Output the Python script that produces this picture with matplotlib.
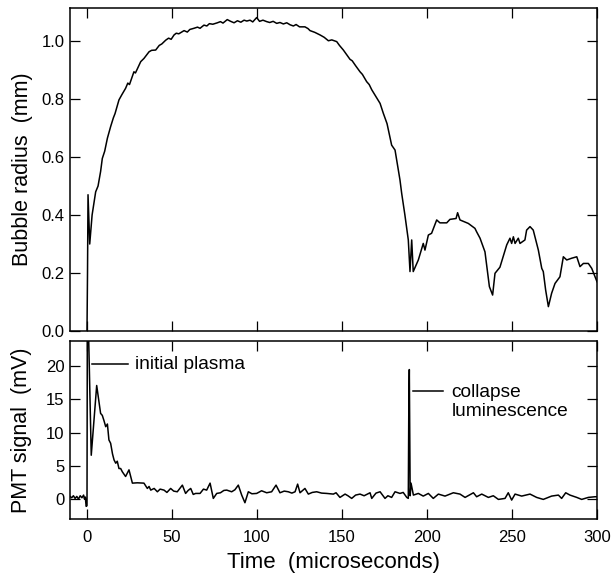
import matplotlib
matplotlib.use("Agg")
import matplotlib.pyplot as plt

plt.rcParams['font.family'] = ['Liberation Sans', 'DejaVu Sans']

# ---- Bubble radius (mm) vs time (microseconds) ----
radius_t = [0.0, 0.3, 0.6, 1.6, 3.0, 5.1, 6.5, 8.0, 9.0, 10.4, 12.0, 13.9, 15.5, 16.5,
            18.8, 20.5, 22.7, 24.0, 25.0, 27.6, 28.5, 31.6, 33.5, 36.5, 38.0, 40.4,
            42.5, 44.0, 46.3, 48.0, 49.5, 51.2, 52.5, 54.0, 57.1, 59.0, 60.5, 62.9,
            65.0, 66.5, 68.8, 70.5, 72.0, 74.0, 76.7, 78.5, 80.0, 82.5, 84.5, 86.5,
            88.5, 90.5, 92.4, 94.0, 95.9, 97.5, 99.8, 101.5, 103.5, 105.7, 107.5,
            109.5, 111.6, 113.5, 115.5, 117.5, 119.5, 121.4, 123.0, 125.0, 128.2,
            130.0, 131.2, 134.0, 137.1, 139.5, 142.0, 144.0, 146.9, 148.5, 150.8,
            152.5, 154.7, 156.0, 158.0, 160.6, 162.0, 164.5, 166.0, 167.5, 169.4,
            170.5, 172.4, 174.3, 176.5, 179.2, 181.2, 184.1, 185.1, 187.0, 189.0,
            190.0, 191.0, 191.9, 194.9, 197.8, 198.8, 200.8, 202.7, 205.7, 207.6,
            211.6, 213.5, 217.1, 218.0, 219.4, 224.3, 228.2, 229.2, 231.2, 234.1,
            236.7, 238.6, 240.0, 242.9, 246.9, 248.8, 249.8, 250.8, 251.8, 253.7,
            254.7, 257.6, 258.6, 260.6, 262.5, 265.5, 267.5, 268.4, 269.8, 271.4,
            273.3, 275.3, 278.2, 280.2, 282.2, 285.1, 288.1, 290.0, 292.0, 294.9,
            296.9, 300.0]
radius_mm = [0.0, 0.20, 0.47, 0.30, 0.40, 0.48, 0.50, 0.55, 0.595, 0.62, 0.665, 0.705,
             0.735, 0.750, 0.797, 0.815, 0.837, 0.855, 0.850, 0.894, 0.890, 0.929,
             0.940, 0.963, 0.968, 0.969, 0.985, 0.990, 1.003, 1.010, 1.006, 1.021,
             1.027, 1.025, 1.036, 1.031, 1.040, 1.044, 1.048, 1.044, 1.055, 1.052,
             1.060, 1.058, 1.063, 1.067, 1.062, 1.074, 1.068, 1.063, 1.070, 1.065,
             1.072, 1.069, 1.072, 1.066, 1.081, 1.068, 1.072, 1.067, 1.064, 1.068,
             1.061, 1.064, 1.059, 1.063, 1.056, 1.052, 1.057, 1.049, 1.049, 1.043,
             1.036, 1.030, 1.021, 1.013, 1.001, 1.004, 0.998, 0.985, 0.969, 0.955,
             0.937, 0.932, 0.915, 0.894, 0.885, 0.860, 0.850, 0.832, 0.814, 0.803,
             0.785, 0.751, 0.715, 0.641, 0.624, 0.521, 0.475, 0.400, 0.314, 0.205,
             0.314, 0.205, 0.245, 0.302, 0.279, 0.331, 0.337, 0.383, 0.373, 0.373,
             0.385, 0.388, 0.408, 0.383, 0.371, 0.354, 0.342, 0.320, 0.273, 0.153,
             0.124, 0.199, 0.220, 0.297, 0.320, 0.302, 0.325, 0.302, 0.320, 0.302,
             0.314, 0.348, 0.360, 0.348, 0.279, 0.216, 0.205, 0.141, 0.084, 0.130,
             0.164, 0.187, 0.256, 0.245, 0.251, 0.256, 0.222, 0.233, 0.233, 0.216,
             0.170]

# ---- PMT signal (mV) vs time (microseconds) ----
pmt_t = [-10.0, -9.0, -8.0, -7.0, -6.0, -5.0, -4.0, -3.0, -2.0, -1.5, -1.0, -0.5, 0.0,
         0.2, 1.0, 2.5, 5.7, 8.0, 9.0, 10.0, 11.0, 12.0, 12.9, 13.9, 15.0, 15.9, 16.9,
         17.8, 18.8, 19.8, 20.8, 22.7, 24.7, 26.7, 29.6, 33.5, 35.5, 36.5, 37.5, 39.5,
         41.4, 43.0, 45.3, 47.0, 49.2, 51.0, 53.1, 56.1, 58.0, 59.5, 61.0, 62.5, 63.9,
         66.5, 68.5, 70.4, 72.4, 74.3, 76.3, 78.5, 80.5, 82.2, 85.1, 87.0, 89.0, 91.0,
         92.9, 94.9, 97.0, 99.8, 102.7, 105.7, 108.6, 111.2, 113.5, 116.0, 118.4,
         120.5, 122.4, 123.9, 125.3, 128.2, 130.2, 132.5, 135.1, 138.0, 141.0, 144.9,
         146.5, 148.8, 151.8, 153.5, 155.7, 158.0, 160.6, 163.0, 166.5, 167.5, 170.0,
         172.4, 175.3, 177.0, 179.2, 181.2, 184.1, 186.0, 188.1, 189.0, 189.3, 189.6,
         190.1, 190.6, 192.0, 194.9, 197.8, 200.8, 203.7, 206.7, 210.6, 215.5, 219.4,
         222.4, 227.3, 229.2, 232.2, 236.1, 239.0, 242.0, 245.9, 247.8, 249.8, 251.8,
         255.7, 260.6, 264.5, 268.4, 273.3, 277.3, 279.2, 281.6, 284.1, 288.1, 291.0,
         294.9, 298.8, 300.0]
pmt_mv = [0.4, 0.2, 0.5, 0.1, 0.4, 0.0, 0.5, 0.2, 0.6, 0.0, 0.3, -1.1, -1.0,
          28.0, 24.0, 6.6, 17.1, 12.9, 12.6, 11.8, 10.9, 11.3, 8.9, 8.4, 6.8, 5.9, 5.4,
          5.7, 4.6, 4.6, 4.1, 3.4, 4.4, 2.4, 2.45, 2.4, 1.6, 1.9, 1.35, 1.6,
          1.1, 1.5, 1.35, 1.0, 1.6, 1.2, 1.1, 2.1, 0.85, 1.3, 1.6, 0.7, 0.85,
          0.85, 1.5, 1.35, 2.4, 0.1, 0.85, 0.95, 1.3, 1.35, 1.1, 1.4, 2.1, 0.6,
          -0.55, 1.1, 0.8, 0.85, 1.25, 0.95, 1.1, 2.1, 0.95, 1.2, 1.1,
          0.9, 1.1, 2.25, 0.95, 1.6, 0.75, 1.0, 1.1, 0.9, 0.85, 0.75,
          0.95, 0.25, 0.75, 0.5, 0.1, 0.6, 0.75, 0.5, 0.95, 0.1, 0.9,
          1.1, 0.1, 0.5, 0.25, 1.1, 0.85, 1.0, 0.25, 0.1, 13.9, 19.5,
          0.5, 2.4, 0.6, 0.85, 0.45, 0.85, 0.1, 0.75, 0.45, 0.95, 0.75,
          0.25, 0.95, 0.35, 0.75, 0.25, 0.5, -0.05, 0.1, 0.95, -0.15, 0.75,
          0.45, 0.75, 0.25, -0.05, 0.45, 0.6, 0.1, 0.95, 0.6, 0.25, -0.05,
          0.25, 0.35, 0.35]

x_ticks = [0, 50, 100, 150, 200, 250, 300]
radius_ticks = [0.0, 0.2, 0.4, 0.6, 0.8, 1.0]
pmt_ticks = [0, 5, 10, 15, 20]

fig = plt.figure(figsize=(6.12, 5.79), dpi=100)
left, width = 70 / 612, 527 / 612
ax1 = fig.add_axes([left, 1 - 331 / 579, width, 323 / 579])
ax2 = fig.add_axes([left, 1 - 519 / 579, width, 178 / 579])

lw = 1.1
ax1.plot(radius_t, radius_mm, color='black', lw=lw)
ax2.plot(pmt_t, pmt_mv, color='black', lw=lw)

for ax in (ax1, ax2):
    ax.set_xlim(-10, 300)
    ax.set_xticks(x_ticks)
    ax.tick_params(direction='in', length=7, width=0.9, top=True, right=True,
                   labelsize=12, pad=4, colors='black')
    ax.tick_params(axis='x', pad=8)
    for s in ax.spines.values():
        s.set_linewidth(1.1)
        s.set_color('black')

ax1.set_ylim(0, 1.114)
ax1.set_yticks(radius_ticks)
ax1.set_yticklabels([f"{v:.1f}" for v in radius_ticks])
ax1.tick_params(axis='x', labelbottom=False)
ax1.set_ylabel("Bubble radius  (mm)", fontsize=15.5, labelpad=6)

ax2.set_ylim(-3, 23.8)
ax2.set_yticks(pmt_ticks)
ax2.set_ylabel("PMT signal  (mV)", fontsize=15.5, labelpad=10)
ax2.set_xlabel("Time  (microseconds)", fontsize=16, labelpad=5)

ax2.plot([2.9, 24.1], [20.3, 20.3], color='black', lw=1.1)
ax2.text(28.2, 20.3, "initial plasma", fontsize=13.8, va='center', ha='left')
ax2.plot([192.0, 209.6], [16.3, 16.3], color='black', lw=1.1)
ax2.text(214.5, 14.6, "collapse\nluminescence", fontsize=13.8, va='center', ha='left',
         linespacing=1.15)

fig.align_ylabels([ax1, ax2])
fig.savefig("out.png", dpi=100)
